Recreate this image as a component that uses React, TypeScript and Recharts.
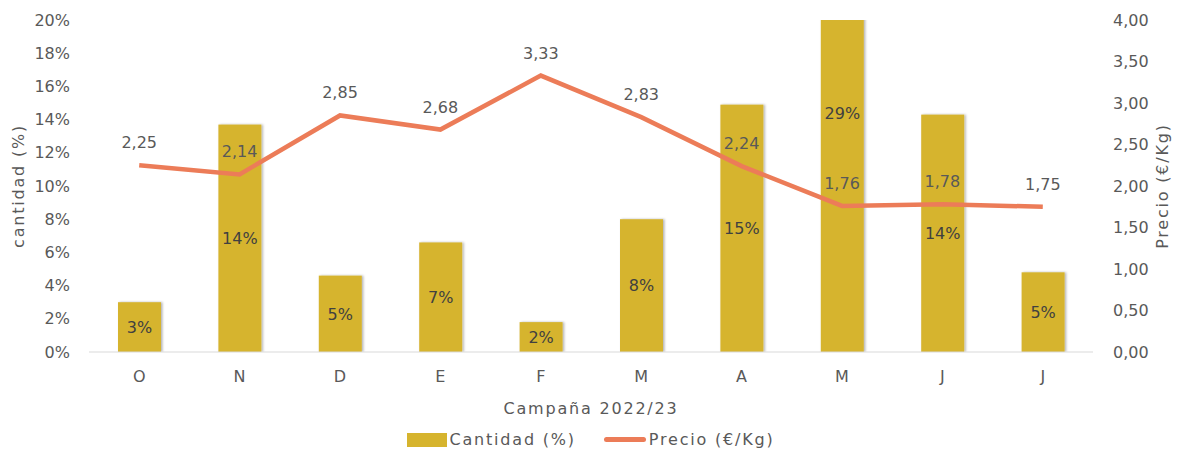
import { Bar, ComposedChart, Label, LabelList, Legend, Line, XAxis, YAxis } from "recharts";

const months = ["O", "N", "D", "E", "F", "M", "A", "M", "J", "J"];
const cantidad = [3.0, 13.7, 4.6, 6.6, 1.8, 8.0, 14.9, 28.7, 14.3, 4.8];
const precio = [2.25, 2.14, 2.85, 2.68, 3.33, 2.83, 2.24, 1.76, 1.78, 1.75];
const leftTicks = [0, 2, 4, 6, 8, 10, 12, 14, 16, 18, 20];
const rightTicks = [0, 0.5, 1, 1.5, 2, 2.5, 3, 3.5, 4];

const data = months.map((m, i) => ({ key: `${m}${i}`, month: m, cantidad: cantidad[i], precio: precio[i] }));

const FONT = "'DejaVu Sans', sans-serif";
const GREY = "#595959";
const GOLD = "#D6B42E";
const ORANGE = "#EC7C58";
const SPACING = 1.8;

const fmtPrice = (v: number) => v.toFixed(2).replace(".", ",");

function BarShape(props: any) {
  const { x, y, width, height } = props;
  return <rect x={x} y={y} width={width} height={height} fill={GOLD} filter="url(#barShadow)" />;
}

function LegendBox() {
  return (
    <div
      style={{
        display: "flex",
        justifyContent: "center",
        alignItems: "center",
        fontFamily: FONT,
        fontSize: 16,
        letterSpacing: SPACING,
        color: GREY,
        height: 35,
      }}
    >
      <span style={{ display: "inline-block", width: 40, height: 14, background: GOLD, marginRight: 3 }} />
      <span>Cantidad (%)</span>
      <span
        style={{
          display: "inline-block",
          width: 42,
          height: 5,
          borderRadius: 3,
          background: ORANGE,
          marginLeft: 28,
          marginRight: 3,
        }}
      />
      <span>Precio (€/Kg)</span>
    </div>
  );
}

export default function App() {
  return (
    <div style={{ position: "absolute", left: 0, top: 0, background: "#fff" }}>
      <ComposedChart width={1181} height={457} data={data} margin={{ top: 20, right: 0, bottom: 0, left: 0 }}>
        <defs>
          <filter id="barShadow" x="-20%" y="-5%" width="140%" height="110%">
            <feDropShadow dx={1.5} dy={0} stdDeviation={1} floodColor="#000" floodOpacity={0.3} />
          </filter>
        </defs>
        <XAxis
          dataKey="key"
          tickFormatter={(v: string) => v.slice(0, 1)}
          height={70}
          tickLine={false}
          tickSize={0}
          tickMargin={19}
          stroke="#D9D9D9"
          tick={{ fill: GREY, fontSize: 16, fontFamily: FONT }}
        >
          <Label
            value="Campaña 2022/23"
            position="insideBottom"
            offset={8}
            style={{ fill: GREY, fontSize: 16, fontFamily: FONT, letterSpacing: SPACING }}
          />
        </XAxis>
        <YAxis
          yAxisId="left"
          width={89}
          domain={[0, 20]}
          ticks={leftTicks}
          allowDataOverflow
          axisLine={false}
          tickLine={false}
          tickSize={0}
          tickMargin={19}
          tickFormatter={(v: number) => `${v}%`}
          tick={{ fill: GREY, fontSize: 16, fontFamily: FONT }}
        >
          <Label
            value="cantidad (%)"
            angle={-90}
            position="insideLeft"
            offset={18}
            style={{ fill: GREY, fontSize: 16, fontFamily: FONT, textAnchor: "middle", letterSpacing: SPACING }}
          />
        </YAxis>
        <YAxis
          yAxisId="right"
          orientation="right"
          width={88}
          domain={[0, 4]}
          ticks={rightTicks}
          axisLine={false}
          tickLine={false}
          tickSize={0}
          tickMargin={20}
          tickFormatter={fmtPrice}
          tick={{ fill: GREY, fontSize: 16, fontFamily: FONT }}
        >
          <Label
            value="Precio (€/Kg)"
            angle={-90}
            position="insideRight"
            offset={19}
            style={{ fill: GREY, fontSize: 16, fontFamily: FONT, textAnchor: "middle", letterSpacing: SPACING }}
          />
        </YAxis>
        <Legend verticalAlign="bottom" height={35} content={() => <LegendBox />} />
        <Bar
          yAxisId="left"
          dataKey="cantidad"
          name="Cantidad (%)"
          barSize={43}
          fill={GOLD}
          shape={<BarShape />}
          isAnimationActive={false}
        >
          <LabelList
            dataKey="cantidad"
            position="center"
            formatter={(v: any) => `${Math.round(Number(v))}%`}
            style={{ fill: "#404040", fontSize: 16, fontFamily: FONT }}
          />
        </Bar>
        <Line
          yAxisId="right"
          dataKey="precio"
          name="Precio (€/Kg)"
          type="linear"
          stroke={ORANGE}
          strokeWidth={4.5}
          dot={false}
          activeDot={false}
          isAnimationActive={false}
        >
          <LabelList
            dataKey="precio"
            position="top"
            offset={17}
            formatter={(v: any) => fmtPrice(Number(v))}
            style={{ fill: GREY, fontSize: 16, fontFamily: FONT }}
          />
        </Line>
      </ComposedChart>
    </div>
  );
}
